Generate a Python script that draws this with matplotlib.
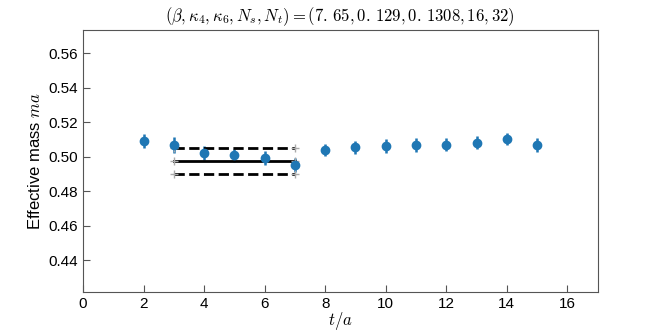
import numpy as np
import matplotlib
matplotlib.use('Agg')
import matplotlib.pyplot as plt

plt.rcParams['font.family'] = ['Liberation Sans', 'DejaVu Sans']
plt.rcParams['mathtext.fontset'] = 'cm'

t = [2, 3, 4, 5, 6, 7, 8, 9, 10, 11, 12, 13, 14, 15]
m_eff = [0.5093, 0.5068, 0.5020, 0.5007, 0.4994, 0.4950, 0.5037, 0.5054,
         0.5064, 0.5070, 0.5070, 0.5080, 0.5105, 0.5068]
m_err = [0.0040, 0.0045, 0.0040, 0.0035, 0.0040, 0.0040, 0.0035, 0.0038,
         0.0040, 0.0040, 0.0038, 0.0038, 0.0035, 0.0038]

fit_range = [3, 7]
fit_val = 0.4977
fit_err = 0.0075

fig = plt.figure(figsize=(6.64, 3.32), dpi=100)
ax = fig.add_axes([0.125, 0.12, 0.775, 0.79])

ax.errorbar(t, m_eff, yerr=m_err, fmt='o', color='#1f77b4', markersize=6,
            elinewidth=1.8, capsize=0)

ax.plot(fit_range, [fit_val, fit_val], color='black', lw=2, marker='+',
        mec='#aaaaaa', ms=6)
ax.plot(fit_range, [fit_val + fit_err] * 2, color='black', lw=2, ls='--',
        marker='+', mec='#aaaaaa', ms=6)
ax.plot(fit_range, [fit_val - fit_err] * 2, color='black', lw=2, ls='--',
        marker='+', mec='#aaaaaa', ms=6)

ax.set_xlim(0, 17)
ax.set_ylim(0.4215, 0.5735)
ax.set_xticks(np.arange(0, 17, 2))
ax.set_yticks([0.44, 0.46, 0.48, 0.50, 0.52, 0.54, 0.56])
ax.yaxis.set_major_formatter(matplotlib.ticker.FormatStrFormatter('%.2f'))
ax.tick_params(direction='in', length=5, labelsize=11, color='#555555')
for s in ax.spines.values():
    s.set_color('#555555')

ax.set_xlabel(r'$t/a$', fontsize=12)
ax.xaxis.set_label_coords(0.5, -0.068)
ax.set_ylabel(r'Effective mass $ma$', fontsize=12)
ax.set_title(r'$(\beta,\kappa_4,\kappa_6,N_s,N_t) = (7.\,65,0.\,129,0.\,1308,16,32)$',
             fontsize=12)

fig.savefig('out.png', dpi=100)
